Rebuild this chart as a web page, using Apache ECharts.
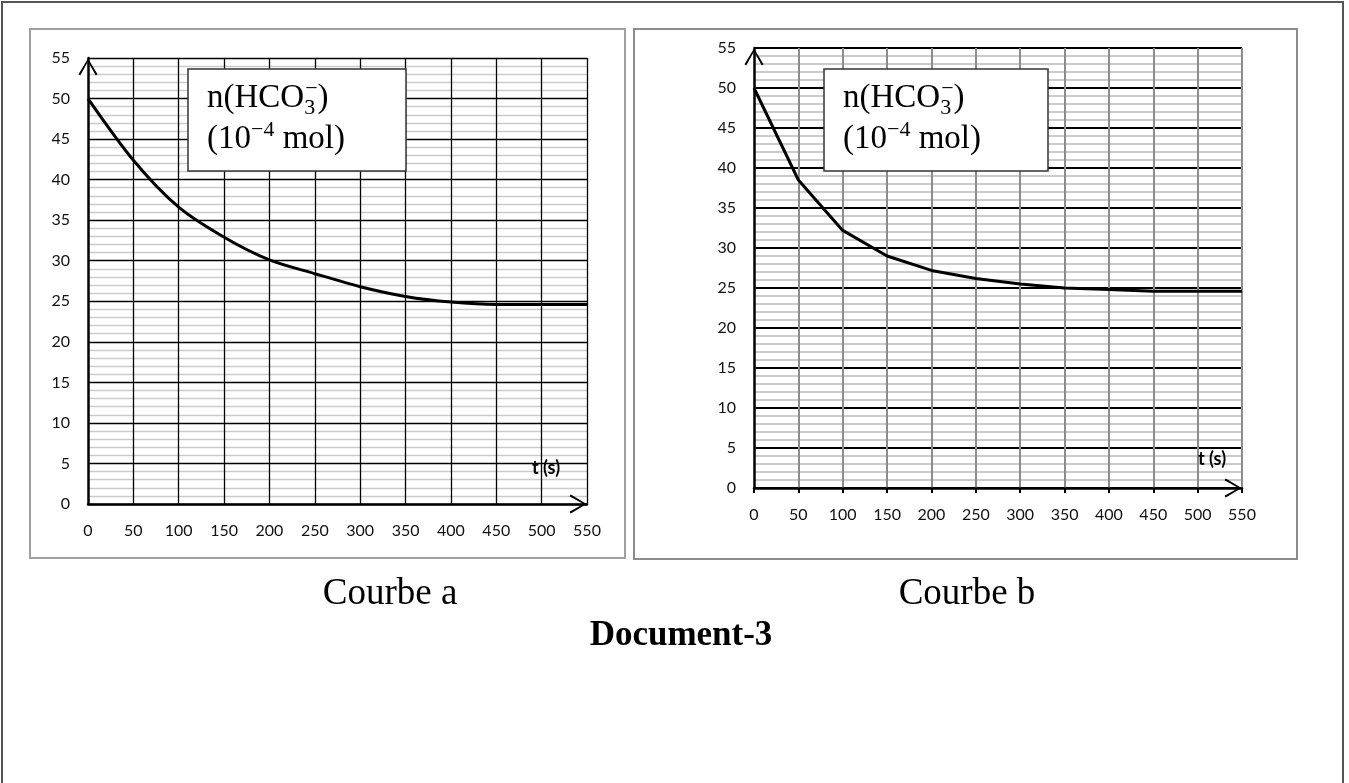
<!DOCTYPE html>
<html>
<head>
<meta charset="utf-8">
<script src="https://cdn.jsdelivr.net/npm/echarts@6/dist/echarts.min.js"></script>
<style>
  html, body { margin: 0; padding: 0; background: #fff; }
  #main { width: 1349px; height: 783px; }
</style>
</head>
<body>
<div id="main"></div>
<script>
// temps (s) et n(HCO3-) en 10^-4 mol
const tValues = [0, 50, 100, 150, 200, 250, 300, 350, 400, 450, 500, 550];
const nCourbeA = [50, 42.4, 36.6, 32.9, 30.1, 28.4, 26.8, 25.6, 24.9, 24.6, 24.6, 24.6];
const nCourbeB = [50, 38.5, 32.2, 29.0, 27.2, 26.2, 25.5, 25.0, 24.8, 24.6, 24.6, 24.6];
const captions = ['Courbe a', 'Courbe b'];
const docTitle = 'Document-3';
const axisName = 't (s)';

const chevron = 'path://M10,0 L20,16.6 L18.2,18 L10,3.2 L1.8,18 L0,16.6 Z';
const labelFont = 'Lato';

function xAxisFor(idx, gridLine, ticks, nameGap, namePad) {
  return {
    type: 'value', gridIndex: idx, min: 0, max: 550, interval: 50, z: 2,
    name: axisName, nameLocation: 'end', nameGap: nameGap,
    nameTextStyle: { fontFamily: labelFont, fontWeight: 'bold', fontSize: 18, color: '#000',
      align: 'center', verticalAlign: 'bottom', padding: [0, 0, namePad, 0] },
    axisLine: { show: true, onZero: false, lineStyle: { color: '#000', width: 2.5 },
      symbol: ['none', chevron], symbolSize: [19, 18], symbolOffset: [0, -9] },
    axisTick: ticks ? { show: true, length: 5, lineStyle: { color: '#000', width: 2 } } : { show: false },
    axisLabel: { fontFamily: labelFont, fontSize: 16, color: '#111', margin: 19 },
    splitLine: { show: true, showMinLine: false, lineStyle: gridLine }
  };
}

function yAxisFor(idx, majorLine, minorLine) {
  return {
    type: 'value', gridIndex: idx, min: 0, max: 55, interval: 5, z: 1,
    axisLine: { show: true, onZero: false, lineStyle: { color: '#000', width: 2.5 },
      symbol: ['none', chevron], symbolSize: [19, 18], symbolOffset: [0, -9] },
    axisTick: { show: false },
    axisLabel: { fontFamily: labelFont, fontSize: 16, color: '#111', margin: 18 },
    splitLine: { show: true, lineStyle: majorLine },
    minorTick: { show: false, splitNumber: 5 },
    minorSplitLine: { show: true, lineStyle: minorLine }
  };
}

function boxText(x) {
  return {
    type: 'text', x: x, y: 78, z: 12,
    style: {
      text: '{n|n(HCO}{sub|3}{sup|−}{n|)}\n{n|(10}{sup|−4}{n| mol)}',
      fill: '#000',
      rich: {
        n: { fontFamily: 'Liberation Serif', fontSize: 33, lineHeight: 41, color: '#000' },
        sub: { fontFamily: 'Liberation Serif', fontSize: 22, lineHeight: 20, verticalAlign: 'bottom', width: 1, color: '#000' },
        sup: { fontFamily: 'Liberation Serif', fontSize: 22, lineHeight: 28, verticalAlign: 'top', color: '#000' }
      }
    }
  };
}

const chart = echarts.init(document.getElementById('main'));
chart.setOption({
  animation: false,
  backgroundColor: '#fff',
  title: [
    { text: captions[0], left: 385, top: 571, textAlign: 'center',
      textStyle: { fontFamily: 'Liberation Serif', fontSize: 37, fontWeight: 'normal', color: '#000' } },
    { text: captions[1], left: 962, top: 571, textAlign: 'center',
      textStyle: { fontFamily: 'Liberation Serif', fontSize: 37, fontWeight: 'normal', color: '#000' } },
    { text: docTitle, left: 676, top: 613, textAlign: 'center',
      textStyle: { fontFamily: 'Liberation Serif', fontSize: 35, fontWeight: 'bold', color: '#000' } }
  ],
  grid: [
    { left: 88, top: 58, width: 499, height: 446, containLabel: false, outerBoundsMode: 'none' },
    { left: 754, top: 48, width: 488, height: 440, containLabel: false, outerBoundsMode: 'none' }
  ],
  xAxis: [
    xAxisFor(0, { color: '#000', width: 1.3 }, false, -41, 27),
    xAxisFor(1, { color: '#8c8c8c', width: 2 }, true, -30, 20)
  ],
  yAxis: [
    yAxisFor(0, { color: '#000', width: 1.3 }, { color: '#cbcbcb', width: 1.4 }),
    yAxisFor(1, { color: '#000', width: 2 }, { color: '#b8b8b8', width: 1.7 })
  ],
  series: [
    { type: 'line', xAxisIndex: 0, yAxisIndex: 0, z: 5, smooth: 0.3, symbol: 'none',
      lineStyle: { color: '#000', width: 3 },
      data: tValues.map((t, i) => [t, nCourbeA[i]]) },
    { type: 'line', xAxisIndex: 1, yAxisIndex: 1, z: 5, smooth: false, symbol: 'none',
      lineStyle: { color: '#000', width: 3 },
      data: tValues.map((t, i) => [t, nCourbeB[i]]) }
  ],
  graphic: [
    { type: 'rect', z: 0, shape: { x: 2, y: 2, width: 1341, height: 800 },
      style: { fill: 'none', stroke: '#555', lineWidth: 2 } },
    { type: 'rect', z: 0, shape: { x: 30, y: 29, width: 595, height: 529 },
      style: { fill: 'none', stroke: '#a0a0a0', lineWidth: 2 } },
    { type: 'rect', z: 0, shape: { x: 634, y: 29, width: 663, height: 530 },
      style: { fill: 'none', stroke: '#8c8c8c', lineWidth: 2 } },
    { type: 'rect', z: 11, shape: { x: 188, y: 69, width: 218, height: 102 },
      style: { fill: '#fff', stroke: '#333', lineWidth: 1.5 } },
    { type: 'rect', z: 11, shape: { x: 824, y: 69, width: 224, height: 102 },
      style: { fill: '#fff', stroke: '#333', lineWidth: 1.5 } },
    boxText(207),
    boxText(843)
  ]
});
</script>
</body>
</html>
